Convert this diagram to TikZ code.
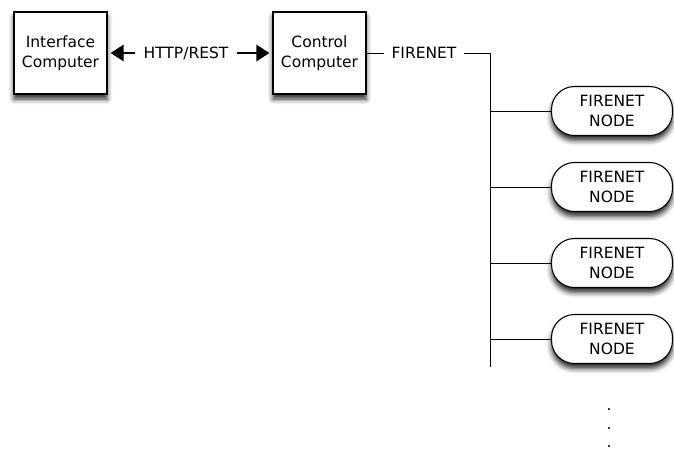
\documentclass[tikz,border=0pt]{standalone}
\usepackage{fontspec}
\setmainfont{DejaVu Sans}
\usetikzlibrary{arrows.meta,shadows.blur}
\begin{document}
\begin{tikzpicture}[x=1pt,y=-1pt,
  font=\fontsize{15.5}{19.5}\selectfont,
  shade/.style={blur shadow={shadow xshift=0pt,shadow yshift=-5pt,shadow blur radius=5pt,shadow opacity=85}},
  computer/.style={draw,line width=1.1pt,fill=white,minimum width=93pt,minimum height=82pt,
    align=center,inner sep=0pt,shade},
  fnode/.style={draw,line width=1.1pt,fill=white,rounded corners=23pt,minimum width=121pt,
    minimum height=49pt,align=center,inner sep=0pt,shade},
  wire/.style={line width=0.9pt},
  fat/.style={line width=2.8pt,-{Triangle[length=13pt,width=16pt]}},
  dotmark/.style={inner sep=0pt}]
\useasboundingbox (0,0) rectangle (674,451);

\node[computer] (ic) at (60.5,53) {Interface\\Computer};
\node[computer] (cc) at (319.5,53) {Control\\Computer};

% HTTP/REST link between the two computers
\node[inner sep=0pt] (http) at (186,53) {HTTP/REST};
\draw[fat] ([xshift=-8pt]http.west) -- ([xshift=3pt]ic.east);
\draw[fat] ([xshift=8pt]http.east) -- ([xshift=-3pt]cc.west);

% FIRENET bus
\node[inner sep=0pt] (fn) at (424,53) {FIRENET};
\coordinate (corner) at (490,53);
\coordinate (busend) at (490,367);
\draw[wire] (cc.east) -- ([xshift=-7pt]fn.west);
\draw[wire] ([xshift=7pt]fn.east) -- (corner) -- (busend);

% nodes hanging off the bus
\foreach \i/\y in {1/111,2/187,3/263,4/339}{
  \node[fnode] (n\i) at (612,\y) {FIRENET\\NODE};
  \draw[wire] (n\i.west) -- (490,\y);
}

% continuation dots
\node[dotmark] (d1) at (609,410) {.};
\node[dotmark] (d2) at (609,429) {.};
\node[dotmark] (d3) at (609,447) {.};
\end{tikzpicture}
\end{document}
